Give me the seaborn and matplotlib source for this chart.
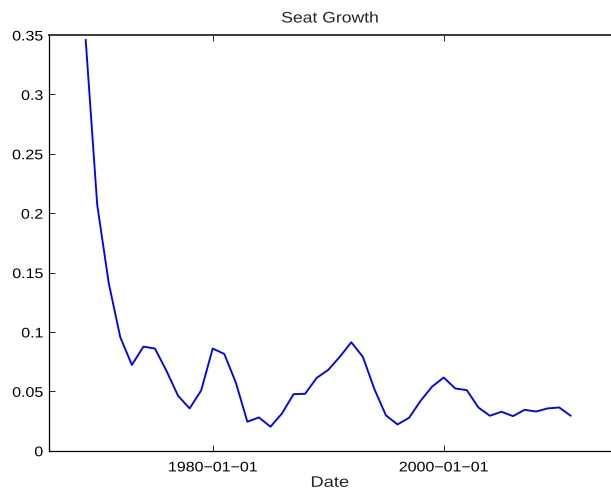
import datetime as dt

import matplotlib
matplotlib.use("Agg")
import matplotlib.dates as mdates
import matplotlib.pyplot as plt
import pandas as pd
import seaborn as sns
from matplotlib.patheffects import AbstractPathEffect
from matplotlib.transforms import Affine2D

# Annual seat growth rate, 1969-2011
years = list(range(1969, 2012))
growth = [
    0.346, 0.207, 0.141, 0.0955, 0.0722, 0.0876, 0.0860, 0.0672, 0.0462, 0.0356,
    0.0507, 0.0860, 0.0815, 0.0574, 0.0244, 0.0280, 0.0202, 0.0314, 0.0476, 0.0479,
    0.0613, 0.0680, 0.0790, 0.0913, 0.0790, 0.0518, 0.0297, 0.0221, 0.0277, 0.0420,
    0.0540, 0.0616, 0.0524, 0.0510, 0.0364, 0.0294, 0.0328, 0.0291, 0.0344, 0.0330,
    0.0356, 0.0364, 0.0294,
]
tick_dates = ["1980-01-01", "2000-01-01"]
yticks = [0, 0.05, 0.1, 0.15, 0.2, 0.25, 0.3, 0.35]
ytick_labels = ["0", "0.05", "0.1", "0.15", "0.2", "0.25", "0.3", "0.35"]

df = pd.DataFrame({
    "Date": pd.to_datetime([f"{y}-01-01" for y in years]),
    "Growth": growth,
})


class HStretch(AbstractPathEffect):
    """Widen text glyphs horizontally about its left, centre or right edge."""

    def __init__(self, sx, anchor="center"):
        super().__init__()
        self.sx = sx
        self.anchor = anchor

    def draw_path(self, renderer, gc, tpath, affine, rgbFace=None):
        ext = tpath.get_extents()
        cx = {"left": ext.x0, "right": ext.x1}.get(self.anchor, 0.5 * (ext.x0 + ext.x1))
        t = Affine2D().translate(-cx, 0).scale(self.sx, 1).translate(cx, 0) + affine
        renderer.draw_path(gc, tpath, t, rgbFace)


sns.set_style("ticks")
plt.rcParams["font.family"] = ["Liberation Sans", "DejaVu Sans"]
plt.rcParams["font.size"] = 10

fig = plt.figure(figsize=(6.11, 4.95), dpi=100)
ax = fig.add_axes([48.7 / 611, 1 - 450.7 / 495, 1 - 48.7 / 611, (450.7 - 35) / 495])

sns.lineplot(data=df, x="Date", y="Growth", ax=ax, color="#0000ff", linewidth=1.35)

# x range: the 1980 and 2000 ticks sit at fixed fractions of the axis width
t0 = mdates.date2num(dt.datetime(1980, 1, 1))
t1 = mdates.date2num(dt.datetime(2000, 1, 1))
w = 611 - 48.7
f0 = (212.7 - 48.7) / w
f1 = (443.7 - 48.7) / w
span = (t1 - t0) / (f1 - f0)
left = t0 - f0 * span
ax.set_xlim(left, left + span)
ax.set_ylim(0, 0.35)

ax.set_xticks([mdates.date2num(pd.Timestamp(d)) for d in tick_dates])
ax.set_xticklabels([d.replace("-", "\u2212") for d in tick_dates])
ax.set_yticks(yticks)
ax.set_yticklabels(ytick_labels)

ax.tick_params(direction="in", length=4, width=0.6, colors="black",
               labelsize=10, top=True, right=False)
ax.tick_params(axis="x", pad=7)
ax.tick_params(axis="y", pad=4)

for side in ["left", "bottom"]:
    ax.spines[side].set_color("black")
    ax.spines[side].set_linewidth(0.9)
ax.spines["top"].set_visible(True)
ax.spines["top"].set_color("#3a3a3a")
ax.spines["top"].set_linewidth(1.4)
ax.spines["right"].set_visible(False)

ax.set_xlabel("Date", fontsize=11, labelpad=1)
ax.set_ylabel("")
title = ax.set_title("Seat Growth", fontsize=11, pad=9)

stretch = 1.15
for lab in ax.get_xticklabels():
    lab.set_path_effects([HStretch(stretch, "center")])
for lab in ax.get_yticklabels():
    lab.set_path_effects([HStretch(stretch, "right")])
ax.xaxis.label.set_path_effects([HStretch(1.2, "center")])
title.set_path_effects([HStretch(stretch, "center")])

fig.savefig("out.png", dpi=100)
